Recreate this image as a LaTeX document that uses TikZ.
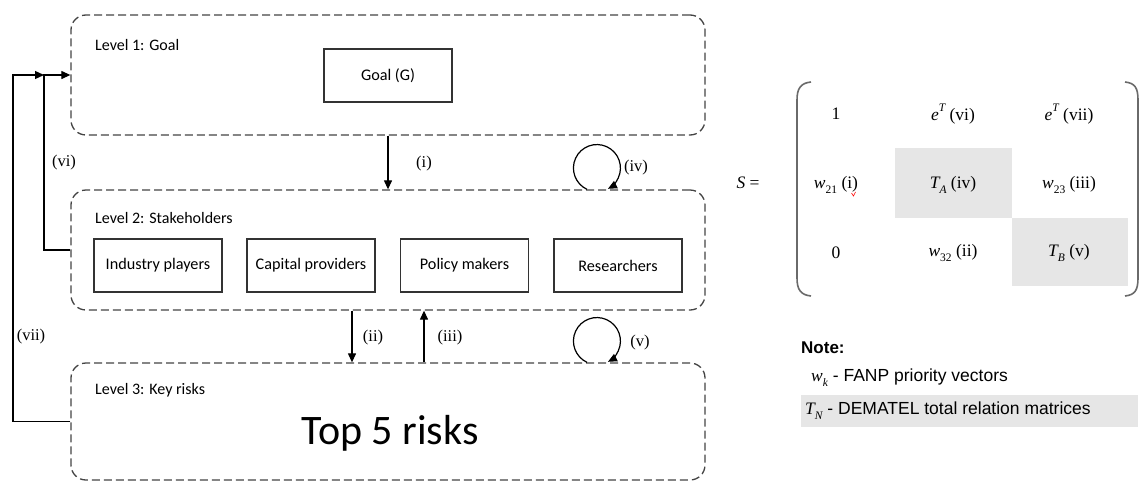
\documentclass[tikz,border=0pt]{standalone}
\usepackage{fontspec}
\setmainfont{Carlito}
\newfontfamily\tnr{Liberation Serif}
\newfontfamily\arial{Liberation Sans}
\usetikzlibrary{arrows.meta}
\definecolor{edge}{HTML}{333333}
\definecolor{dash}{HTML}{444444}
\definecolor{cellgray}{HTML}{E6E6E6}
\definecolor{paren}{HTML}{6A6A6A}
% italic symbol with lowered / raised index, set in the serif face
\newcommand\sym[1]{{\itshape #1}}
\newcommand\lo[1]{\raisebox{-0.28em}{\fontsize{11.5}{12}\selectfont #1}}
\newcommand\hi[1]{\raisebox{0.5em}{\fontsize{11.5}{12}\selectfont #1}}
\tikzset{
  level/.style={draw=dash, line width=1.3pt, dash pattern=on 8pt off 4pt,
    rounded corners=15pt, minimum width=634pt, inner sep=0pt},
  itembox/.style={draw=edge, line width=1.1pt, minimum width=128pt,
    minimum height=53pt, inner sep=0pt, font=\fontsize{16.2}{19}\selectfont},
  lvltext/.style={anchor=west, inner sep=0pt, font=\fontsize{16}{19}\selectfont},
  arr/.style={draw=black, line width=1.2pt, -{Triangle[length=9pt,width=8pt]}},
  rlab/.style={inner sep=0pt, font=\tnr\fontsize{16.5}{19}\selectfont},
  entry/.style={inner sep=0pt, font=\tnr\fontsize{17.5}{20}\selectfont},
  notetext/.style={anchor=west, inner sep=0pt, font=\arial\fontsize{17.5}{20}\selectfont}
}
\begin{document}
\begin{tikzpicture}[x=1pt,y=-1pt]
\useasboundingbox (0,0) rectangle (1140,482);

% three levels of the hierarchy
\node[level, minimum height=120pt] (L1) at (388,75) {};
\node[level, minimum height=120pt] (L2) at (388,250) {};
\node[level, minimum height=117pt] (L3) at (388,421.5) {};

\node[lvltext] (t1) at (95,45) {Level 1: Goal};
\node[lvltext] (t2) at (95,218) {Level 2: Stakeholders};
\node[lvltext] (t3) at (95,390) {Level 3: Key risks};

\node[itembox] (G) at (388,75.5) {Goal (G)};
\node[itembox] (s1) at (158,265.5) {Industry players};
\node[itembox] (s2) at (311,265.5) {Capital providers};
\node[itembox] (s3) at (464.5,265.5) {Policy makers};
\node[itembox] (s4) at (618,265.5) {Researchers};

\node[inner sep=0pt, font=\fontsize{42}{48}\selectfont] (top) at (390,433) {Top 5 risks};

% links between levels
\draw[arr] (L1.south) -- (L2.north);
\draw[arr] ([xshift=-36pt]L2.south) -- ([xshift=-36pt]L3.north);
\draw[arr] ([xshift=36pt]L3.north) -- ([xshift=36pt]L2.south);

% inner dependence loops, sitting on top of levels 2 and 3
\draw[arr] ([xshift=199pt]L2.north) arc[start angle=245, end angle=-62, radius=23.5pt];
\draw[arr] ([xshift=199pt]L3.north) arc[start angle=245, end angle=-62, radius=23.5pt];

% feedback to the goal
\coordinate (J) at (44,75);
\draw[arr] (L2.west) -- (J |- L2.west) -- (J) -- (L1.west);
\draw[arr] (L3.west) -- (13,421.5) |- (J);

\node[rlab] (li) at (424,164) {(i)};
\node[rlab] (lii) at (373,338) {(ii)};
\node[rlab] (liii) at (450,338) {(iii)};
\node[rlab] (liv) at (636,168) {(iv)};
\node[rlab] (lv) at (640,343) {(v)};
\node[rlab] (lvi) at (64,163) {(vi)};
\node[rlab] (lvii) at (31,337) {(vii)};

% supermatrix
\fill[cellgray] (895,148) rectangle (1012,218);
\fill[cellgray] (1012,218) rectangle (1128,286);
\draw[paren, line width=1.6pt] (811,82) .. controls (801,83) and (797,88) .. (797,100)
  -- (797,278) .. controls (797,290) and (801,295) .. (811,296);
\draw[paren, line width=1.6pt] (1125,82) .. controls (1135,83) and (1138,88) .. (1138,100)
  -- (1138,278) .. controls (1138,290) and (1135,295) .. (1125,296);

\node[entry] (S) at (748,183) {\sym{S} =};
\node[entry] (m11) at (836,114) {1};
\node[entry] (m12) at (953,114) {\sym{e}\hi{\sym{T}} (vi)};
\node[entry] (m13) at (1069,114) {\sym{e}\hi{\sym{T}} (vii)};
\node[entry] (m21) at (836,185) {\sym{w}\lo{21} (i)};
\node[entry] (m22) at (953,185) {\sym{T}\lo{\sym{A}} (iv)};
\node[entry] (m23) at (1069,185) {\sym{w}\lo{23} (iii)};
\node[entry] (m31) at (836,253) {0};
\node[entry] (m32) at (953,253) {\sym{w}\lo{32} (ii)};
\node[entry] (m33) at (1069,253) {\sym{T}\lo{\sym{B}} (v)};
\draw[red, line width=0.6pt] (851.5,193) -- (853.5,196) -- (855.5,192);

% legend
\fill[cellgray] (801,395) rectangle (1138,427);
\node[notetext, font=\arial\bfseries\fontsize{17}{20}\selectfont] (note) at (801,348) {Note:};
\node[notetext] (n1) at (811,378) {{\tnr\sym{w}\lo{\sym{k}}} - FANP priority vectors};
\node[notetext] (n2) at (805,411) {{\tnr\sym{T}\lo{\sym{N}}} - DEMATEL total relation matrices};
\end{tikzpicture}
\end{document}
